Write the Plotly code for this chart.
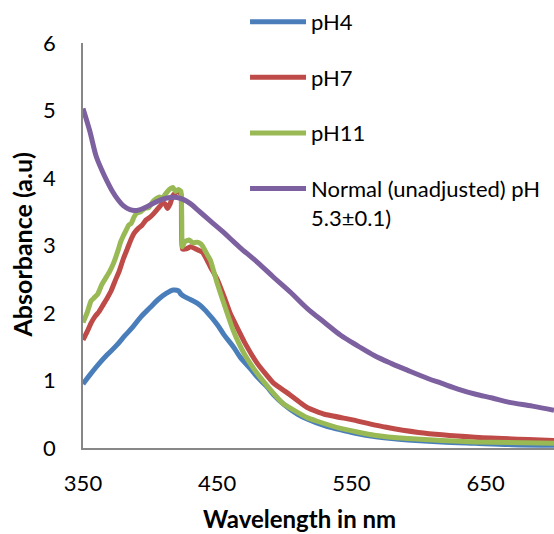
import plotly.graph_objects as go

# ---- data ----
wl_ph4 = [350, 355, 362, 368, 375, 381, 387, 393, 400, 406, 412, 417, 421, 423, 425, 430, 437, 442, 450, 455,
          462, 467, 475, 480, 487, 492, 500, 510, 517, 530, 542, 555, 567, 580, 592, 617, 642, 670, 701]
abs_ph4 = [0.95, 1.08, 1.25, 1.38, 1.52, 1.66, 1.79, 1.94, 2.08, 2.20, 2.29, 2.34, 2.33, 2.28, 2.25, 2.20, 2.12, 2.02, 1.83, 1.68,
           1.50, 1.35, 1.17, 1.05, 0.91, 0.79, 0.64, 0.50, 0.43, 0.33, 0.27, 0.21, 0.17, 0.14, 0.12, 0.09, 0.07, 0.05, 0.04]

wl_ph7 = [350, 353, 356, 359, 362, 365, 368, 371, 374, 377, 380, 383, 386, 388, 391, 394, 397, 400, 403, 406,
          409, 411, 413, 415, 417, 419, 421, 423, 424, 427, 430, 433, 436, 439, 442, 445, 450, 455, 460, 466,
          470, 480, 492, 502, 517, 530, 550, 575, 600, 642, 701]
abs_ph7 = [1.60, 1.72, 1.85, 1.95, 2.02, 2.12, 2.22, 2.33, 2.48, 2.62, 2.80, 2.95, 3.10, 3.18, 3.25, 3.30, 3.38, 3.42, 3.48, 3.55,
           3.62, 3.62, 3.55, 3.62, 3.74, 3.78, 3.80, 3.76, 2.95, 2.95, 2.98, 2.96, 2.93, 2.90, 2.80, 2.68, 2.50, 2.25, 1.98, 1.74,
           1.58, 1.25, 0.96, 0.82, 0.60, 0.50, 0.42, 0.31, 0.23, 0.16, 0.11]

wl_ph11 = [350, 353, 356, 358, 361, 364, 367, 370, 373, 376, 378, 380, 382, 384, 386, 388, 390, 393, 396, 399,
           402, 405, 407, 409, 411, 413, 415, 417, 419, 421, 423, 424, 426, 429, 432, 435, 438, 440, 443, 445,
           450, 455, 462, 470, 480, 492, 499, 517, 524, 542, 567, 592, 642, 701]
abs_ph11 = [1.86, 2.00, 2.18, 2.22, 2.28, 2.42, 2.52, 2.62, 2.75, 2.92, 3.05, 3.14, 3.22, 3.30, 3.33, 3.42, 3.48, 3.50, 3.55, 3.56,
            3.65, 3.70, 3.72, 3.68, 3.75, 3.80, 3.84, 3.86, 3.80, 3.83, 3.80, 2.98, 3.06, 3.08, 3.04, 3.05, 3.02, 2.96, 2.85, 2.78,
            2.44, 2.14, 1.74, 1.40, 1.10, 0.81, 0.66, 0.45, 0.40, 0.29, 0.19, 0.14, 0.09, 0.07]

wl_norm = [350, 355, 360, 364, 368, 372, 376, 380, 385, 390, 395, 400, 405, 410, 415, 420, 425, 430, 437, 445,
           455, 462, 467, 480, 492, 505, 517, 530, 542, 555, 567, 580, 592, 607, 617, 630, 642, 655, 667, 685, 701]
abs_norm = [5.03, 4.70, 4.31, 4.12, 3.95, 3.80, 3.68, 3.59, 3.53, 3.52, 3.55, 3.60, 3.65, 3.69, 3.71, 3.71, 3.68, 3.62, 3.50, 3.36,
            3.19, 3.06, 2.97, 2.75, 2.53, 2.30, 2.07, 1.86, 1.67, 1.51, 1.37, 1.25, 1.15, 1.03, 0.96, 0.87, 0.80, 0.74, 0.68, 0.62, 0.56]

names = ["pH4", "pH7", "pH11", "Normal (unadjusted) pH<br>5.3±0.1)"]
colors = ["#4A7EBB", "#BE4B48", "#98B954", "#7D60A0"]
x_ticks = [350, 450, 550, 650]
y_ticks = [0, 1, 2, 3, 4, 5, 6]

series = [(wl_ph4, abs_ph4), (wl_ph7, abs_ph7), (wl_ph11, abs_ph11), (wl_norm, abs_norm)]
smooth = [1.0, 0.4, 0.4, 1.0]

FONT = "Lato, 'Open Sans', sans-serif"

fig = go.Figure()
for i, ((xs, ys), name, col) in enumerate(zip(series, names, colors)):
    fig.add_trace(go.Scatter(x=xs, y=ys, mode="lines", name=name,
                             line=dict(color=col, width=5, shape="spline", smoothing=smooth[i]),
                             legendgroup=f"g{i}"))

fig.update_layout(
    width=554, height=534,
    margin=dict(l=83, r=0, t=43, b=86),
    paper_bgcolor="white", plot_bgcolor="white",
    font=dict(family=FONT, size=22, color="black"),
    showlegend=True,
    legend=dict(x=0.344, y=1.104, xanchor="left", yanchor="top",
                font=dict(family=FONT, size=22, color="black"),
                tracegroupgap=24, itemwidth=56, valign="top",
                bgcolor="rgba(0,0,0,0)"),
    xaxis=dict(range=[350, 701], tickvals=x_ticks, showgrid=False, zeroline=False,
               showline=True, linecolor="#878787", linewidth=1.5,
               ticks="", ticklabelstandoff=15, tickfont=dict(size=22)),
    yaxis=dict(range=[0, 6], tickvals=y_ticks, showgrid=False, zeroline=False,
               showline=True, linecolor="#878787", linewidth=1.5,
               ticks="", ticklabelstandoff=21, tickfont=dict(size=22)),
    annotations=[
        dict(text="<b>Absorbance (a.u)</b>", textangle=-90, xref="paper", yref="paper",
             x=0, y=0.5, xshift=-62, xanchor="center", yanchor="middle", showarrow=False,
             font=dict(size=25)),
        dict(text="<b>Wavelength in nm</b>", xref="paper", yref="paper",
             x=0.459, y=0, yshift=-70, xanchor="center", yanchor="middle", showarrow=False,
             font=dict(size=24)),
    ],
)

fig.write_html("out.html")
